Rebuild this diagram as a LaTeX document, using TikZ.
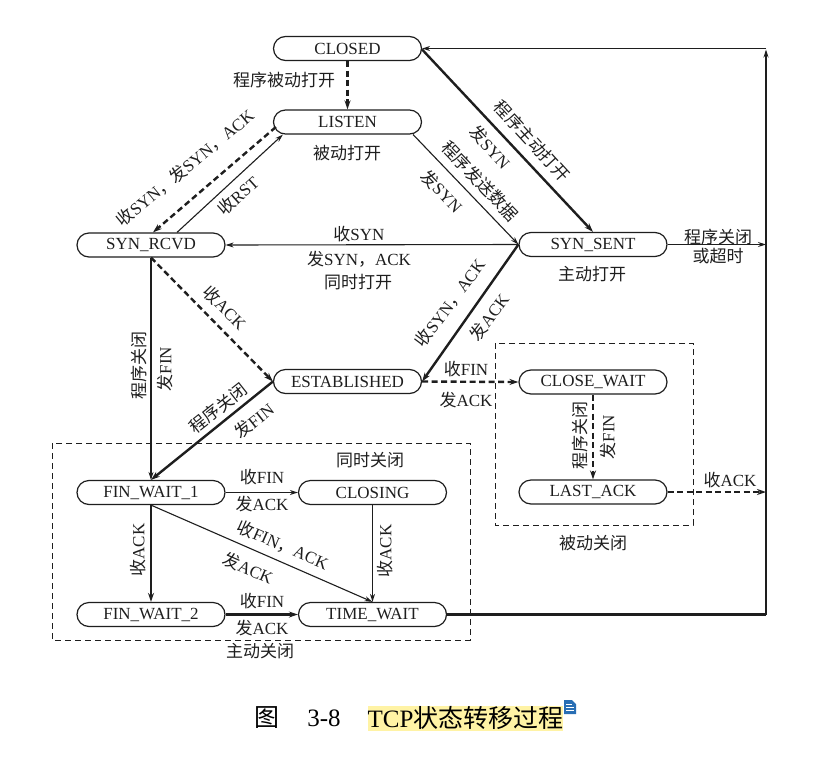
\documentclass[tikz,border=0pt]{standalone}
\usepackage{fontspec}
\setmainfont{Liberation Serif}
\newfontfamily\zhfont{Noto Sans CJK SC}
\newcommand\zh[1]{{\zhfont #1}}
\usetikzlibrary{arrows.meta,calc}
\definecolor{ink}{RGB}{30,30,30}
\definecolor{hl}{RGB}{255,243,165}
\definecolor{iconblue}{RGB}{40,110,180}
\begin{document}
\begin{tikzpicture}[x=1pt,y=-1pt,
  state/.style={draw=ink, line width=1.2pt, rounded corners=12pt, minimum width=148pt, minimum height=24pt, inner sep=0pt, font=\fontsize{17}{20}\selectfont, text=ink},
  lbl/.style={font=\fontsize{17}{20}\selectfont, text=ink, inner sep=0pt},
  thinar/.style={draw=ink, line width=1.1pt, -{Stealth[length=8pt,width=5pt]}},
  thickar/.style={draw=ink, line width=2.4pt, -{Stealth[length=9pt,width=6pt]}},
  thickln/.style={draw=ink, line width=2.4pt},
  dshar/.style={draw=ink, line width=2.4pt, dash pattern=on 6pt off 3.5pt, -{Stealth[length=9pt,width=6pt]}},
  grp/.style={draw=ink, line width=1pt, dash pattern=on 6pt off 4pt},
]
\fill[white] (0,0) rectangle (814,761);
\useasboundingbox (0,0) rectangle (814,761);

% states
\node[state] (closed) at (347.5,48.5) {CLOSED};
\node[state] (listen) at (347.5,122) {LISTEN};
\node[state] (rcvd) at (151,245) {SYN\_RCVD};
\node[state] (sent) at (593,244.5) {SYN\_SENT};
\node[state] (est) at (347.5,381.5) {ESTABLISHED};
\node[state] (cwait) at (593,382) {CLOSE\_WAIT};
\node[state] (lack) at (593,492) {LAST\_ACK};
\node[state] (fw1) at (151,492.5) {FIN\_WAIT\_1};
\node[state] (closing) at (372.5,492.5) {CLOSING};
\node[state] (fw2) at (151,614.5) {FIN\_WAIT\_2};
\node[state] (tw) at (372.5,614.5) {TIME\_WAIT};

\coordinate (rx) at (766,0);
\coordinate (rtop) at (766,48.5);

% groups
\draw[grp] (52,443) rectangle (470,640);
\draw[grp] (495,343) rectangle (693,525);

% connectors
\draw[dshar] (closed.south) -- (listen.north);
\draw[thickar] ([yshift=-1pt]closed.east) -- (sent.north);
\draw[thinar] ([xshift=-9pt]listen.south east) -- (sent.west);
\draw[dshar] ([xshift=3pt,yshift=-5pt]listen.west) -- ([xshift=2pt]rcvd.north);
\draw[thinar] ([xshift=26pt]rcvd.north) -- ([xshift=10pt]listen.south west);
\draw[thinar] (sent.west) -- (rcvd.east);
\draw[dshar] (rcvd.south) -- (est.west);
\draw[thickar] (sent.west) -- (est.east);
\draw[dshar] (est.east) -- (cwait.west);
\draw[dshar] (cwait.south) -- (lack.north);
\draw[thinar] (rcvd.south) -- (fw1.north);
\draw[thickar] (est.west) -- (fw1.north);
\draw[thinar] (fw1.east) -- (closing.west);
\draw[thickar] (fw1.south) -- (fw2.north);
\draw[thinar] (fw1.south) -- (tw.north);
\draw[thinar] (closing.south) -- (tw.north);
\draw[thickar] (fw2.east) -- (tw.west);
\draw[thickln] (tw.east) -- (tw -| rx);
\draw[thinar] (tw -| rx) -- ([yshift=-1pt]rtop);
\draw[thinar] (rtop) -- (closed.east);
\draw[thinar] (sent.east) -- (sent -| rx);
\draw[dshar] (lack.east) -- (lack -| rx);

% labels
\node[lbl] at (284,80) {\zh{程序被动打开}};
\node[lbl] at (347,153) {\zh{被动打开}};
\node[lbl, rotate=-47.5] at (532,141) {\zh{程序主动打开}};
\node[lbl, rotate=-47.5] at (490,147) {\zh{发}SYN};
\node[lbl, rotate=-46.3] at (480,181) {\zh{程序发送数据}};
\node[lbl, rotate=-46.3] at (442,191) {\zh{发}SYN};
\node[lbl, rotate=39.5] at (185,168) {\zh{收}SYN\zh{，发}SYN\zh{，}ACK};
\node[lbl, rotate=42] at (238,196) {\zh{收}RST};
\node[lbl] at (359,234) {\zh{收}SYN};
\node[lbl] at (359,259) {\zh{发}SYN\zh{，}ACK};
\node[lbl] at (358,282) {\zh{同时打开}};
\node[lbl] at (592,274) {\zh{主动打开}};
\node[lbl] at (718,237) {\zh{程序关闭}};
\node[lbl] at (718,256) {\zh{或超时}};
\node[lbl, rotate=-45] at (225,308) {\zh{收}ACK};
\node[lbl, rotate=53.3] at (450,303) {\zh{收}SYN\zh{，}ACK};
\node[lbl, rotate=53.3] at (489,317) {\zh{发}ACK};
\node[lbl] at (466,369) {\zh{收}FIN};
\node[lbl] at (466,400) {\zh{发}ACK};
\node[lbl, rotate=90] at (139.5,365) {\zh{程序关闭}};
\node[lbl, rotate=90] at (165,369) {\zh{发}FIN};
\node[lbl, rotate=38.4] at (218,408) {\zh{程序关闭}};
\node[lbl, rotate=38.4] at (254,421) {\zh{发}FIN};
\node[lbl, rotate=90] at (580,435) {\zh{程序关闭}};
\node[lbl, rotate=90] at (608,437) {\zh{发}FIN};
\node[lbl] at (730,480) {\zh{收}ACK};
\node[lbl] at (593,543) {\zh{被动关闭}};
\node[lbl] at (370,460) {\zh{同时关闭}};
\node[lbl] at (262,477) {\zh{收}FIN};
\node[lbl] at (262,504) {\zh{发}ACK};
\node[lbl, rotate=90] at (138,550) {\zh{收}ACK};
\node[lbl, rotate=90] at (385,551) {\zh{收}ACK};
\node[lbl, rotate=-23.6] at (283,545) {\zh{收}FIN\zh{，}ACK};
\node[lbl, rotate=-23.6] at (248,568) {\zh{发}ACK};
\node[lbl] at (262,601) {\zh{收}FIN};
\node[lbl] at (262,628) {\zh{发}ACK};
\node[lbl] at (260,651) {\zh{主动关闭}};

% caption
\fill[hl] (368,706) rectangle (563,731);
\node[lbl, font=\fontsize{25}{28}\selectfont, text=black] (capfig) at (267,718) {\zh{图}};
\node[lbl, font=\fontsize{25}{28}\selectfont, text=black] (capnum) at (324,718) {3-8};
\node[lbl, font=\fontsize{25}{28}\selectfont, text=black] (captxt) at (465.5,718) {TCP\zh{状态转移过程}};
% note icon
\fill[iconblue] (564,700) -- (572,700) -- (576,704) -- (576,714) -- (564,714) -- cycle;
\draw[white, line width=0.8pt] (566,704.5) -- (572,704.5) (566,707.5) -- (574,707.5) (566,710.5) -- (574,710.5);
\end{tikzpicture}
\end{document}
